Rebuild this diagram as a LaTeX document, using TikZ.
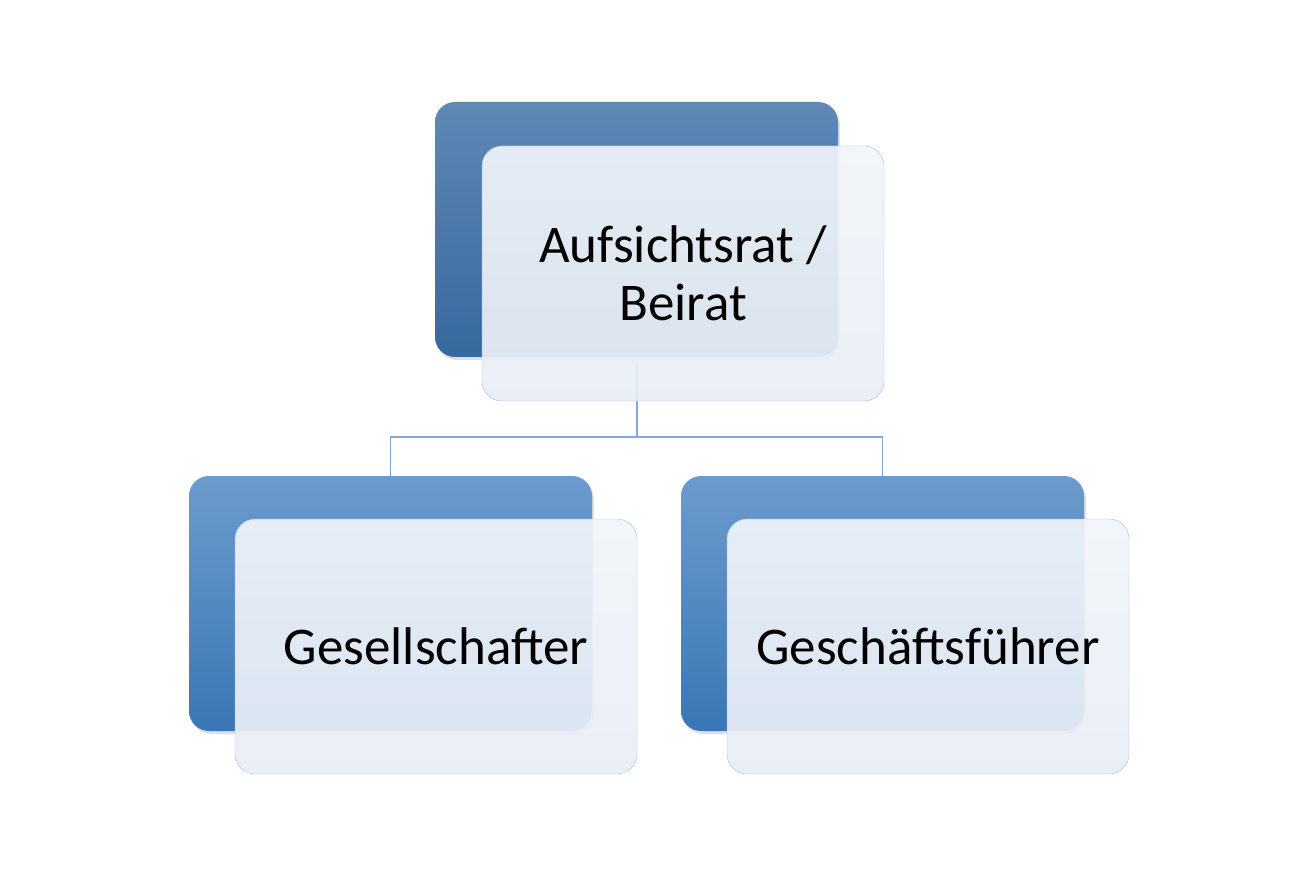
\documentclass[tikz,border=0pt]{standalone}
\usepackage{fontspec}
\setmainfont{Carlito}
\usetikzlibrary{shadows}
\definecolor{lineblue}{HTML}{82A9D9}
\definecolor{edgeblue}{HTML}{A3C0E4}
\definecolor{ftop}{HTML}{F1F5FA}
\definecolor{fbot}{HTML}{E8EEF6}
\definecolor{ttop}{HTML}{5F88B5}
\definecolor{tbot}{HTML}{37699F}
\definecolor{btop}{HTML}{6C9BCD}
\definecolor{bbot}{HTML}{3A77B5}
\tikzset{
  back/.style={rounded corners=20pt, minimum width=403pt, minimum height=255pt, draw=none,
    drop shadow={shadow xshift=2pt, shadow yshift=-3pt, opacity=0.25}},
  front/.style={rounded corners=20pt, minimum width=402pt, minimum height=255pt, draw=edgeblue,
    top color=ftop, bottom color=fbot, fill opacity=0.92,
    text opacity=1, align=center, font=\fontsize{53}{58}\selectfont},
  conn/.style={draw=lineblue, line width=1.5pt}
}
\begin{document}
\begin{tikzpicture}[x=1pt,y=-1pt]
\useasboundingbox (0,0) rectangle (1315,893);
\node[back, top color=ttop, bottom color=tbot] (tb) at (636.5,229.5) {};
\node[back, top color=btop, bottom color=bbot] (lb) at (390.5,603.5) {};
\node[back, top color=btop, bottom color=bbot] (rb) at (882.5,603.5) {};
\coordinate (tin) at (637,365);
\draw[conn] (tin) -- (637,437) coordinate (j) -| (lb.north);
\draw[conn] (j) -| (rb.north);
\node[front] (t) at (683,273.5) {Aufsichtsrat /\\Beirat};
\node[front] (l) at (436,646.5) {Gesellschafter};
\node[front] (r) at (928,646.5) {Geschäftsführer};
\end{tikzpicture}
\end{document}
